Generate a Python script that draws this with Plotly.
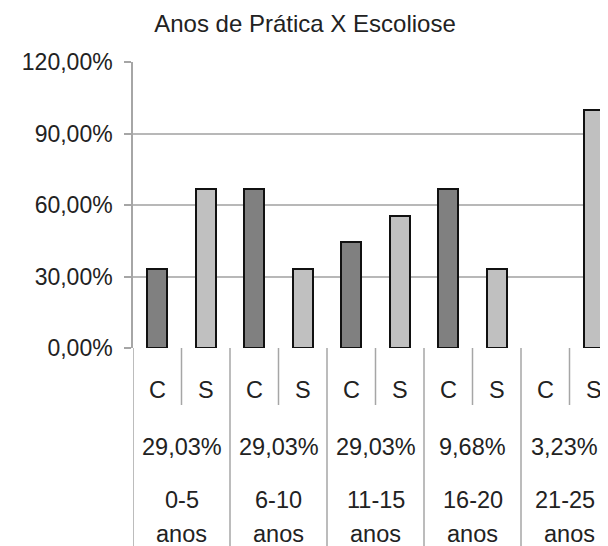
import plotly.graph_objects as go

# ---- data ----
title_text = "Anos de Prática X Escoliose"
groups = ["0-5", "6-10", "11-15", "16-20", "21-25"]
group_unit = "anos"
group_share = ["29,03%", "29,03%", "29,03%", "9,68%", "3,23%"]
sub_labels = ["C", "S"]
com_escoliose = [33.33, 66.67, 44.44, 66.67, 0.0]   # C (%)
sem_escoliose = [66.67, 33.33, 55.56, 33.33, 100.0]  # S (%)
y_ticks = [0, 0.3, 0.6, 0.9, 1.2]

FONT = "Liberation Sans, Arial, sans-serif"
TXT = "#222222"
C_COLOR = "#808080"
S_COLOR = "#c0c0c0"
LINE_GRAY = "#a6a6a6"
LAB_SIZE = 23.5

n = len(groups)
x_c = [2 * g for g in range(n)]
x_s = [2 * g + 1 for g in range(n)]

fig = go.Figure()
fig.add_bar(x=x_c, y=[v / 100 for v in com_escoliose], width=0.42,
            marker=dict(color=C_COLOR,
                        line=dict(color="#111111", width=[2 if v > 0 else 0 for v in com_escoliose])),
            name="C", cliponaxis=False)
fig.add_bar(x=x_s, y=[v / 100 for v in sem_escoliose], width=0.42,
            marker=dict(color=S_COLOR,
                        line=dict(color="#111111", width=[2 if v > 0 else 0 for v in sem_escoliose])),
            name="S", cliponaxis=False)

# plot area: 286px tall
H = 286.0
def py(px_below):
    return -px_below / H

shapes = []
annotations = []
for g in range(n + 1):
    shapes.append(dict(type="line", xref="x", yref="paper", x0=2 * g - 0.5, x1=2 * g - 0.5,
                       y0=0, y1=py(210), line=dict(color=LINE_GRAY, width=1.5)))
for g in range(n):
    shift = -5 if g == n - 1 else 0  # last group is clipped by the window edge
    shapes.append(dict(type="line", xref="x", yref="paper", x0=2 * g + 0.5, x1=2 * g + 0.5,
                       y0=0, y1=py(57), line=dict(color=LINE_GRAY, width=1.5)))
    for k, lab in enumerate(sub_labels):
        annotations.append(dict(x=2 * g + k, y=py(42), xref="x", yref="paper", text=lab,
                                showarrow=False, yanchor="middle", xanchor="center",
                                font=dict(size=LAB_SIZE, color=TXT, family=FONT)))
    annotations.append(dict(x=2 * g + 0.5, y=py(99), xref="x", yref="paper", text=group_share[g],
                            showarrow=False, yanchor="middle", xanchor="center", xshift=shift,
                            font=dict(size=LAB_SIZE, color=TXT, family=FONT)))
    annotations.append(dict(x=2 * g + 0.5, y=py(152), xref="x", yref="paper", text=groups[g],
                            showarrow=False, yanchor="middle", xanchor="center", xshift=shift,
                            font=dict(size=LAB_SIZE, color=TXT, family=FONT)))
    annotations.append(dict(x=2 * g + 0.5, y=py(186), xref="x", yref="paper", text=group_unit,
                            showarrow=False, yanchor="middle", xanchor="center",
                            font=dict(size=LAB_SIZE, color=TXT, family=FONT)))

W, HT = 608, 546
ML, MT, MR = 125, 54, 0
MB = HT - MT - int(H)
plot_w = W - ML - MR

fig.update_layout(
    width=W, height=HT,
    margin=dict(l=ML, r=MR, t=MT, b=MB),
    paper_bgcolor="white", plot_bgcolor="white",
    showlegend=False,
    separators=",.",
    title=dict(text=title_text, x=297 / W, xref="container", xanchor="center",
               y=1 - 16 / HT, yref="container", yanchor="middle",
               font=dict(size=24, color=TXT, family=FONT)),
    bargap=0, barmode="overlay",
    shapes=shapes, annotations=annotations,
    font=dict(family=FONT, color=TXT),
)
fig.update_xaxes(range=[-0.5, -0.5 + plot_w / 48.5], showticklabels=False, showgrid=False,
                 zeroline=False, showline=False, ticks="")
fig.update_yaxes(range=[0, 1.2], tickvals=y_ticks, tickformat=".2%",
                 showgrid=True, gridcolor="#b8b8b8", gridwidth=1.5,
                 zeroline=False, showline=True, linecolor=LINE_GRAY, linewidth=1.5,
                 ticks="outside", ticklen=7, tickcolor=LINE_GRAY, tickwidth=1.5,
                 ticklabelstandoff=7,
                 tickfont=dict(size=23, color=TXT, family=FONT))

fig.write_html("out.html")
